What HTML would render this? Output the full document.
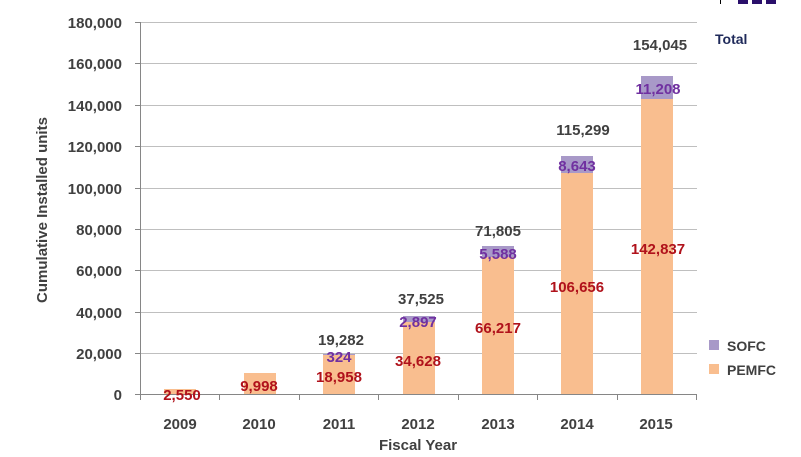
<!DOCTYPE html>
<html><head><style>body{margin:0;background:#fff}svg{display:block;font-family:"Liberation Sans",sans-serif;font-weight:bold}</style></head><body>
<svg width="801" height="457" xmlns="http://www.w3.org/2000/svg">
<rect width="801" height="457" fill="#fff"/>
<rect x="738" y="0" width="10" height="4" fill="#2a0f6b"/><rect x="752" y="0" width="10" height="4" fill="#2a0f6b"/><rect x="766" y="0" width="10" height="4" fill="#2a0f6b"/>
<line x1="720.5" y1="0" x2="720.5" y2="4" stroke="#000"/>
<g stroke="#bfbfbf" stroke-width="1">
<line x1="140" y1="22.5" x2="697" y2="22.5"/><line x1="140" y1="63.5" x2="697" y2="63.5"/><line x1="140" y1="105.5" x2="697" y2="105.5"/><line x1="140" y1="146.5" x2="697" y2="146.5"/><line x1="140" y1="188.5" x2="697" y2="188.5"/><line x1="140" y1="229.5" x2="697" y2="229.5"/><line x1="140" y1="270.5" x2="697" y2="270.5"/><line x1="140" y1="312.5" x2="697" y2="312.5"/><line x1="140" y1="353.5" x2="697" y2="353.5"/>
</g>
<g stroke="#868686"><line x1="140.5" y1="22" x2="140.5" y2="400"/><line x1="135" y1="394.5" x2="697" y2="394.5"/>
<line x1="219.5" y1="394" x2="219.5" y2="400"/><line x1="299.5" y1="394" x2="299.5" y2="400"/><line x1="378.5" y1="394" x2="378.5" y2="400"/><line x1="458.5" y1="394" x2="458.5" y2="400"/><line x1="537.5" y1="394" x2="537.5" y2="400"/><line x1="617.5" y1="394" x2="617.5" y2="400"/><line x1="696.5" y1="394" x2="696.5" y2="400"/>
<line x1="135" y1="22.5" x2="140" y2="22.5"/><line x1="135" y1="63.5" x2="140" y2="63.5"/><line x1="135" y1="105.5" x2="140" y2="105.5"/><line x1="135" y1="146.5" x2="140" y2="146.5"/><line x1="135" y1="188.5" x2="140" y2="188.5"/><line x1="135" y1="229.5" x2="140" y2="229.5"/><line x1="135" y1="270.5" x2="140" y2="270.5"/><line x1="135" y1="312.5" x2="140" y2="312.5"/><line x1="135" y1="353.5" x2="140" y2="353.5"/></g>
<g fill="#f9be8f">
<rect x="164" y="389" width="32" height="5"/><rect x="244" y="373" width="32" height="21"/><rect x="323" y="355" width="32" height="39"/><rect x="403" y="322" width="32" height="72"/><rect x="482" y="257" width="32" height="137"/><rect x="561" y="173" width="32" height="221"/><rect x="641" y="99" width="32" height="295"/>
</g>
<g fill="#a899c8">
<rect x="323" y="354" width="32" height="1"/><rect x="403" y="316" width="32" height="6"/><rect x="482" y="246" width="32" height="11"/><rect x="561" y="156" width="32" height="17"/><rect x="641" y="76" width="32" height="23"/>
</g>
<g font-size="15" fill="#404040" text-anchor="end">
<text x="122" y="28">180,000</text><text x="122" y="69">160,000</text><text x="122" y="111">140,000</text><text x="122" y="152">120,000</text><text x="122" y="194">100,000</text><text x="122" y="235">80,000</text><text x="122" y="276">60,000</text><text x="122" y="318">40,000</text><text x="122" y="359">20,000</text><text x="122" y="400">0</text>
</g>
<g font-size="15" fill="#404040" text-anchor="middle">
<text x="180" y="429">2009</text><text x="259" y="429">2010</text><text x="339" y="429">2011</text><text x="418" y="429">2012</text><text x="498" y="429">2013</text><text x="577" y="429">2014</text><text x="656" y="429">2015</text>
<text x="418" y="450">Fiscal Year</text>
<text x="341" y="345">19,282</text><text x="421" y="304">37,525</text><text x="498" y="236">71,805</text><text x="583" y="135">115,299</text><text x="660" y="50">154,045</text>
</g>
<g font-size="15" fill="#b0121b" text-anchor="middle">
<text x="182" y="400">2,550</text><text x="259" y="391">9,998</text><text x="339" y="382">18,958</text><text x="418" y="366">34,628</text><text x="498" y="333">66,217</text><text x="577" y="292">106,656</text><text x="658" y="254">142,837</text>
</g>
<g font-size="15" fill="#7030a0" text-anchor="middle">
<text x="339" y="362">324</text><text x="418" y="327">2,897</text><text x="498" y="259">5,588</text><text x="577" y="171">8,643</text><text x="658" y="94">11,208</text>
</g>
<text x="715" y="44" font-size="14" fill="#1f2a5a">Total</text>
<text transform="translate(47,210) rotate(-90)" font-size="15" fill="#404040" text-anchor="middle">Cumulative Installed units</text>
<rect x="709" y="340" width="10" height="10" fill="#a899c8"/><text x="727" y="351" font-size="14" fill="#404040">SOFC</text>
<rect x="709" y="364" width="10" height="10" fill="#f9be8f"/><text x="727" y="375" font-size="14" fill="#404040">PEMFC</text>
</svg>
</body></html>
